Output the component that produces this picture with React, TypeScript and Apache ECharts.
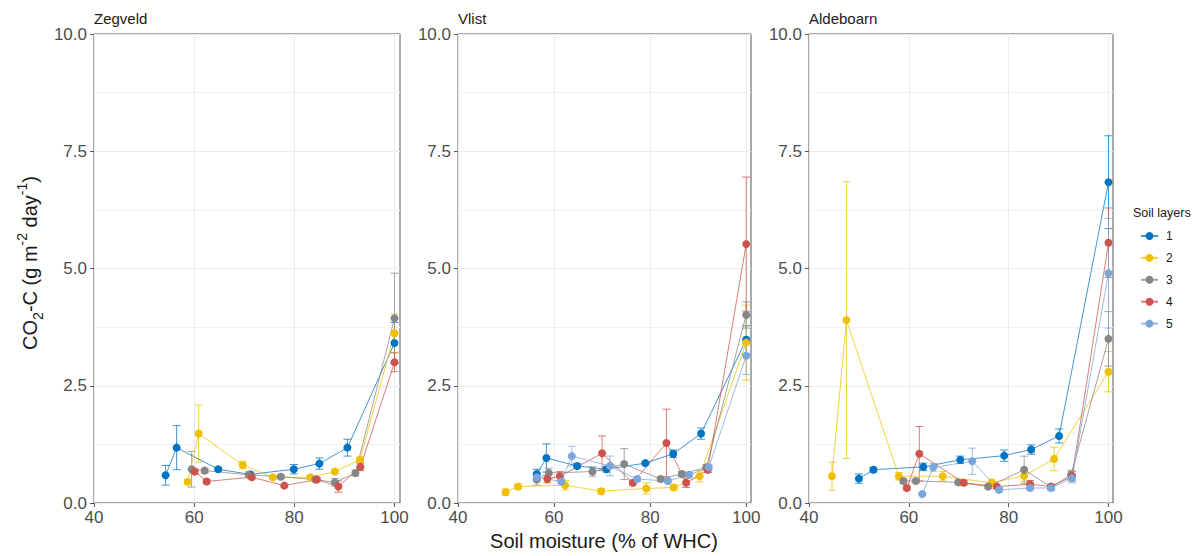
import React, { useEffect, useRef } from "react";
import * as echarts from "echarts";

const FONT = "'Liberation Sans', Arial, sans-serif";
const LAYERS = ["1", "2", "3", "4", "5"];
const COLORS = ["#0073C2", "#EFC000", "#868686", "#CD534C", "#7AA6DC"];
const SITES = ["Zegveld", "Vlist", "Aldeboarn"];
const X_TICKS = [40, 60, 80, 100];
const Y_TICKS = [0, 2.5, 5, 7.5, 10];

// [soil moisture, CO2-C mean, standard error]
const zegveld1 = [[54.3, 0.59, 0.21], [56.5, 1.18, 0.47], [64.8, 0.72, 0.04], [71.2, 0.61, 0.05], [79.9, 0.72, 0.1], [85.0, 0.84, 0.12], [90.6, 1.18, 0.18], [100, 3.41, 0.44]];
const zegveld2 = [[58.7, 0.45, 0.05], [60.9, 1.48, 0.61], [69.7, 0.81, 0.08], [75.7, 0.55, 0.04], [83.2, 0.55, 0.04], [88.1, 0.67, 0.04], [93.1, 0.92, 0.06], [100, 3.62, 0.41]];
const zegveld3 = [[59.5, 0.72, 0.38], [62.1, 0.69, 0.05], [70.9, 0.6, 0.06], [77.3, 0.56, 0.04], [84.2, 0.5, 0.04], [88.1, 0.44, 0.08], [92.2, 0.64, 0.06], [100, 3.94, 0.96]];
const zegveld4 = [[60.1, 0.67, 0.05], [62.5, 0.46, 0.04], [71.5, 0.55, 0.04], [78.0, 0.37, 0.03], [84.5, 0.5, 0.03], [88.8, 0.35, 0.12], [93.2, 0.77, 0.08], [100, 3.0, 0.2]];

const vlist1 = [[56.4, 0.62, 0.1], [58.4, 0.96, 0.3], [64.8, 0.79, 0.05], [70.9, 0.72, 0.06], [79.0, 0.85, 0.04], [84.8, 1.05, 0.08], [90.6, 1.48, 0.12], [100, 3.48, 0.3]];
const vlist2 = [[49.9, 0.23, 0.07], [52.5, 0.35, 0.05], [62.3, 0.38, 0.1], [69.8, 0.25, 0.06], [79.2, 0.31, 0.12], [84.9, 0.33, 0.05], [90.3, 0.57, 0.12], [100, 3.42, 0.8]];
const vlist3 = [[56.4, 0.5, 0.12], [58.9, 0.64, 0.1], [68.0, 0.67, 0.1], [74.6, 0.83, 0.33], [82.2, 0.51, 0.05], [86.6, 0.62, 0.05], [91.7, 0.76, 0.06], [100, 4.01, 0.28]];
const vlist4 = [[58.6, 0.51, 0.08], [61.2, 0.57, 0.1], [70.0, 1.06, 0.37], [76.4, 0.43, 0.05], [83.4, 1.28, 0.72], [87.5, 0.43, 0.1], [92.0, 0.71, 0.06], [100, 5.52, 1.43]];
const vlist5 = [[56.4, 0.55, 0.06], [61.5, 0.46, 0.05], [63.7, 1.0, 0.21], [71.6, 0.79, 0.21], [77.3, 0.51, 0.05], [83.7, 0.47, 0.04], [88.1, 0.6, 0.05], [92.2, 0.76, 0.06], [100, 3.14, 0.4]];

const alde1 = [[50.0, 0.52, 0.1], [52.9, 0.71, 0.05], [62.9, 0.77, 0.08], [70.3, 0.92, 0.08], [79.1, 1.01, 0.12], [84.5, 1.14, 0.1], [90.1, 1.43, 0.15], [100, 6.84, 0.99]];
const alde2 = [[44.6, 0.57, 0.3], [47.5, 3.9, 2.95], [58.0, 0.57, 0.08], [66.8, 0.57, 0.1], [76.6, 0.43, 0.08], [83.1, 0.58, 0.12], [89.1, 0.94, 0.25], [100, 2.8, 0.43]];
const alde3 = [[58.9, 0.47, 0.05], [61.4, 0.47, 0.04], [69.9, 0.44, 0.05], [75.9, 0.35, 0.04], [83.1, 0.71, 0.29], [88.5, 0.34, 0.04], [92.5, 0.6, 0.1], [100, 3.5, 0.58]];
const alde4 = [[59.6, 0.32, 0.04], [62.1, 1.05, 0.58], [71.0, 0.43, 0.05], [77.6, 0.35, 0.04], [84.3, 0.4, 0.08], [88.5, 0.35, 0.05], [92.7, 0.57, 0.1], [100, 5.55, 0.74]];
const alde5 = [[62.7, 0.19, 0.03], [64.9, 0.76, 0.08], [72.7, 0.89, 0.28], [78.1, 0.28, 0.05], [84.3, 0.32, 0.04], [88.5, 0.32, 0.05], [92.7, 0.53, 0.1], [100, 4.9, 1.17]];

const SITE_DATA: (number[][] | null)[][] = [
  [zegveld1, zegveld2, zegveld3, zegveld4, null],
  [vlist1, vlist2, vlist3, vlist4, vlist5],
  [alde1, alde2, alde3, alde4, alde5],
];

const PANELS = [
  { left: 94, width: 306, max: 101.1 },
  { left: 458, width: 293, max: 101.0 },
  { left: 809, width: 304, max: 100.9 },
];
const TOP = 34;
const HEIGHT = 469;

export default function App() {
  const ref = useRef<HTMLDivElement>(null);
  useEffect(() => {
    document.body.style.margin = "0";
    const chart = echarts.init(ref.current!, null, { renderer: "svg" });

    const grids = PANELS.map((p) => ({
      left: p.left, top: TOP, width: p.width, height: HEIGHT,
      show: true, borderColor: "#555", borderWidth: 1, backgroundColor: "transparent",
    }));
    const xAxes = PANELS.map((p, i) => ({
      type: "value", gridIndex: i, min: 40, max: p.max, interval: 10,
      axisLine: { show: false },
      axisTick: { show: true, length: 4, customValues: X_TICKS, lineStyle: { color: "#555" } },
      axisLabel: { customValues: X_TICKS, fontSize: 17, color: "#4D4D4D", fontFamily: FONT, margin: 6, formatter: (v: number) => String(v) },
      splitLine: { show: true, lineStyle: { color: "#EBEBEB", width: 1 } },
    }));
    const yAxes = PANELS.map((p, i) => ({
      type: "value", gridIndex: i, min: 0, max: 10, interval: 2.5,
      axisLine: { show: false },
      axisTick: { show: true, length: 4, lineStyle: { color: "#555" } },
      axisLabel: { fontSize: 17, color: "#4D4D4D", fontFamily: FONT, margin: 7, formatter: (v: number) => v.toFixed(1) },
      splitLine: { show: true, lineStyle: { color: "#EBEBEB", width: 1 } },
      minorTick: { show: false, splitNumber: 2 },
      minorSplitLine: { show: true, lineStyle: { color: "#F2F2F2", width: 1 } },
    }));

    const series: any[] = [];
    SITE_DATA.forEach((layers, p) => {
      layers.forEach((arr, l) => {
        if (!arr) return;
        const color = COLORS[l];
        series.push({
          type: "custom", name: "err" + LAYERS[l], xAxisIndex: p, yAxisIndex: p, z: 2, silent: true,
          data: arr.map((d) => [d[0], d[1] - d[2], d[1] + d[2]]),
          encode: { x: 0, y: [1, 2] },
          renderItem: (_params: any, api: any) => {
            const x = api.value(0);
            const a = api.coord([x, api.value(1)]);
            const b = api.coord([x, api.value(2)]);
            const w = 4;
            const style = { stroke: color, lineWidth: 1, opacity: 0.75 };
            return {
              type: "group",
              children: [
                { type: "line", shape: { x1: a[0], y1: a[1], x2: b[0], y2: b[1] }, style },
                { type: "line", shape: { x1: a[0] - w, y1: a[1], x2: a[0] + w, y2: a[1] }, style },
                { type: "line", shape: { x1: b[0] - w, y1: b[1], x2: b[0] + w, y2: b[1] }, style },
              ],
            };
          },
        });
        series.push({
          type: "line", name: LAYERS[l], xAxisIndex: p, yAxisIndex: p, z: 3,
          data: arr.map((d) => [d[0], d[1]]),
          symbol: "circle", symbolSize: 8, showSymbol: true,
          itemStyle: { color },
          lineStyle: { color, width: 1, opacity: 0.75 },
        });
      });
    });

    const titles = SITES.map((s, i) => ({
      type: "text", x: PANELS[i].left, y: 18,
      style: { text: s, fill: "#1A1A1A", fontSize: 15, fontFamily: FONT, align: "left", verticalAlign: "middle" },
    }));

    chart.setOption({
      animation: false,
      backgroundColor: "#FFFFFF",
      grid: grids,
      xAxis: xAxes,
      yAxis: yAxes,
      legend: {
        data: LAYERS, orient: "vertical", left: 1135, top: 225,
        itemWidth: 17, itemHeight: 10, itemGap: 9.9,
        textStyle: { fontSize: 12, color: "#1A1A1A", fontFamily: FONT, padding: [0, 0, 0, 3] },
      },
      graphic: [
        ...titles,
        {
          type: "text", x: 1133, y: 213,
          style: { text: "Soil layers", fill: "#1A1A1A", fontSize: 12.5, fontFamily: FONT, align: "left", verticalAlign: "middle" },
        },
        {
          type: "text", x: 604, y: 541,
          style: { text: "Soil moisture (% of WHC)", fill: "#1A1A1A", fontSize: 20, fontFamily: FONT, align: "center", verticalAlign: "middle" },
        },
        {
          type: "text", x: 30, y: 263, rotation: Math.PI / 2,
          style: {
            text: "{n|CO}{sub|2}{n|-C (g m}{sup|-2}{n| day}{sup|-1}{n|)}",
            align: "center", verticalAlign: "middle", fill: "#1A1A1A", fontFamily: FONT,
            rich: {
              n: { fontSize: 20, lineHeight: 30, fontFamily: FONT, fill: "#1A1A1A" },
              sub: { fontSize: 14, lineHeight: 18, verticalAlign: "bottom", fontFamily: FONT, fill: "#1A1A1A" },
              sup: { fontSize: 14, lineHeight: 20, verticalAlign: "top", fontFamily: FONT, fill: "#1A1A1A" },
            },
          },
        },
      ],
      series,
    });
    return () => chart.dispose();
  }, []);
  return <div ref={ref} style={{ width: 1204, height: 556 }} />;
}
